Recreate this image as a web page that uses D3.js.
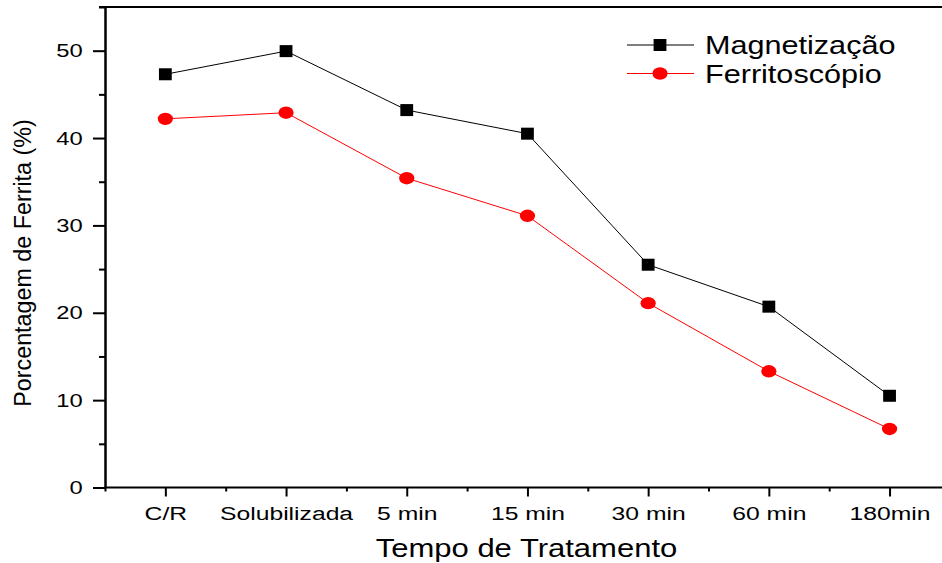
<!DOCTYPE html>
<html>
<head>
<meta charset="utf-8">
<script src="https://cdn.jsdelivr.net/npm/d3@7"></script>
<style>
  body { margin: 0; background: #fff; }
  text { font-family: "Liberation Sans", Arial, sans-serif; fill: #000; }
</style>
</head>
<body>
<div id="chart"></div>
<script>
// data
var categories = ["C/R", "Solubilizada", "5 min", "15 min", "30 min", "60 min", "180min"];
var magnetizacao = [47.3, 49.95, 43.2, 40.5, 25.5, 20.7, 10.5];
var ferritoscopio = [42.2, 42.9, 35.4, 31.1, 21.1, 13.3, 6.7];
var yTicks = [0, 10, 20, 30, 40, 50];
var yMinorTicks = [5, 15, 25, 35, 45, 55];
var seriesNames = ["Magnetização", "Ferritoscópio"];

var attrs = {
    svgWidth: 942,
    svgHeight: 563,
    left: 105,
    top: 7,
    bottom: 487.5,
    step: 120.7
};

var svg = d3.select("#chart")
    .append("svg")
    .attr("width", attrs.svgWidth)
    .attr("height", attrs.svgHeight);

var xScale = d3.scalePoint()
    .domain(categories)
    .range([attrs.left, attrs.left + attrs.step * categories.length])
    .padding(0.5);

// index scale, used only for the minor ticks between categories
var xIndex = d3.scaleLinear()
    .domain([-0.5, categories.length - 0.5])
    .range([attrs.left, attrs.left + attrs.step * categories.length]);

var yScale = d3.scaleLinear()
    .domain([0, 55])
    .range([attrs.bottom, attrs.top]);

// top frame line
svg.append("line")
    .attr("x1", attrs.left - 6).attr("x2", attrs.svgWidth + 10)
    .attr("y1", attrs.top).attr("y2", attrs.top)
    .attr("stroke", "#000").attr("stroke-width", 2);

// x axis
var xAxis = svg.append("g")
    .attr("transform", "translate(0," + attrs.bottom + ")")
    .call(d3.axisBottom(xScale).tickSize(9).tickSizeOuter(0).tickPadding(10));

xAxis.select(".domain")
    .attr("d", "M" + attrs.left + ",0H" + (attrs.svgWidth + 10))
    .attr("stroke-width", 2);
xAxis.selectAll(".tick line").attr("stroke-width", 2);
xAxis.selectAll(".tick text")
    .attr("font-size", 19)
    .attr("font-family", "Liberation Sans, Arial, sans-serif")
    .attr("transform", "scale(1.3,1)");

svg.append("g")
    .attr("transform", "translate(0," + attrs.bottom + ")")
    .call(d3.axisBottom(xIndex)
        .tickValues(d3.range(-0.5, categories.length, 1))
        .tickSize(4).tickSizeOuter(0).tickFormat(""))
    .call(function (g) {
        g.select(".domain").remove();
        g.selectAll(".tick line").attr("stroke-width", 2);
    });

// y axis
var yAxis = svg.append("g")
    .attr("transform", "translate(" + attrs.left + ",0)")
    .call(d3.axisLeft(yScale).tickValues(yTicks).tickSize(12).tickSizeOuter(0).tickPadding(5.8));

yAxis.select(".domain").attr("stroke-width", 2.5);
yAxis.selectAll(".tick line").attr("stroke-width", 2);
yAxis.selectAll(".tick text")
    .attr("font-size", 19)
    .attr("font-family", "Liberation Sans, Arial, sans-serif")
    .attr("transform", "scale(1.25,1)");

svg.append("g")
    .attr("transform", "translate(" + attrs.left + ",0)")
    .call(d3.axisLeft(yScale).tickValues(yMinorTicks).tickSize(6).tickSizeOuter(0).tickFormat(""))
    .call(function (g) {
        g.select(".domain").remove();
        g.selectAll(".tick line").attr("stroke-width", 2);
    });

// axis titles
svg.append("text")
    .attr("transform", "translate(" + ((attrs.left + 950) / 2 - 1) + ",557) scale(1.17,1)")
    .attr("text-anchor", "middle")
    .attr("font-size", 26.5)
    .text("Tempo de Tratamento");

svg.append("text")
    .attr("transform", "translate(31," + 263 + ") rotate(-90)")
    .attr("text-anchor", "middle")
    .attr("font-size", 23.3)
    .text("Porcentagem de Ferrita (%)");

// series
var series = [
    { name: seriesNames[0], values: magnetizacao, color: "#000", shape: "square" },
    { name: seriesNames[1], values: ferritoscopio, color: "#ff0000", shape: "circle" }
];

var line = d3.line()
    .x(function (d, i) { return xScale(categories[i]); })
    .y(function (d) { return yScale(d); });

function drawMarker(sel, shape, color) {
    if (shape === "square") {
        sel.append("rect")
            .attr("x", -6.4).attr("y", -6)
            .attr("width", 12.8).attr("height", 12)
            .attr("fill", color);
    } else {
        sel.append("ellipse")
            .attr("rx", 7.6).attr("ry", 6.2)
            .attr("fill", color);
    }
}

series.forEach(function (s) {
    svg.append("path")
        .datum(s.values)
        .attr("d", line)
        .attr("fill", "none")
        .attr("stroke", s.color)
        .attr("stroke-width", 1);

    svg.selectAll(".pt-" + s.shape)
        .data(s.values)
        .enter()
        .append("g")
        .attr("class", "pt-" + s.shape)
        .attr("transform", function (d, i) {
            return "translate(" + xScale(categories[i]) + "," + yScale(d) + ")";
        })
        .each(function () { drawMarker(d3.select(this), s.shape, s.color); });
});

// legend
var legend = svg.append("g").attr("transform", "translate(627,45)");
series.forEach(function (s, i) {
    var row = legend.append("g").attr("transform", "translate(0," + (i * 28.5) + ")");
    row.append("line")
        .attr("x1", 0).attr("x2", 67)
        .attr("stroke", s.color).attr("stroke-width", 1);
    drawMarker(row.append("g").attr("transform", "translate(33,0)"), s.shape, s.color);
    row.append("text")
        .attr("transform", "translate(78,9) scale(1.2,1)")
        .attr("font-size", 25.5)
        .text(s.name);
});
</script>
</body>
</html>
